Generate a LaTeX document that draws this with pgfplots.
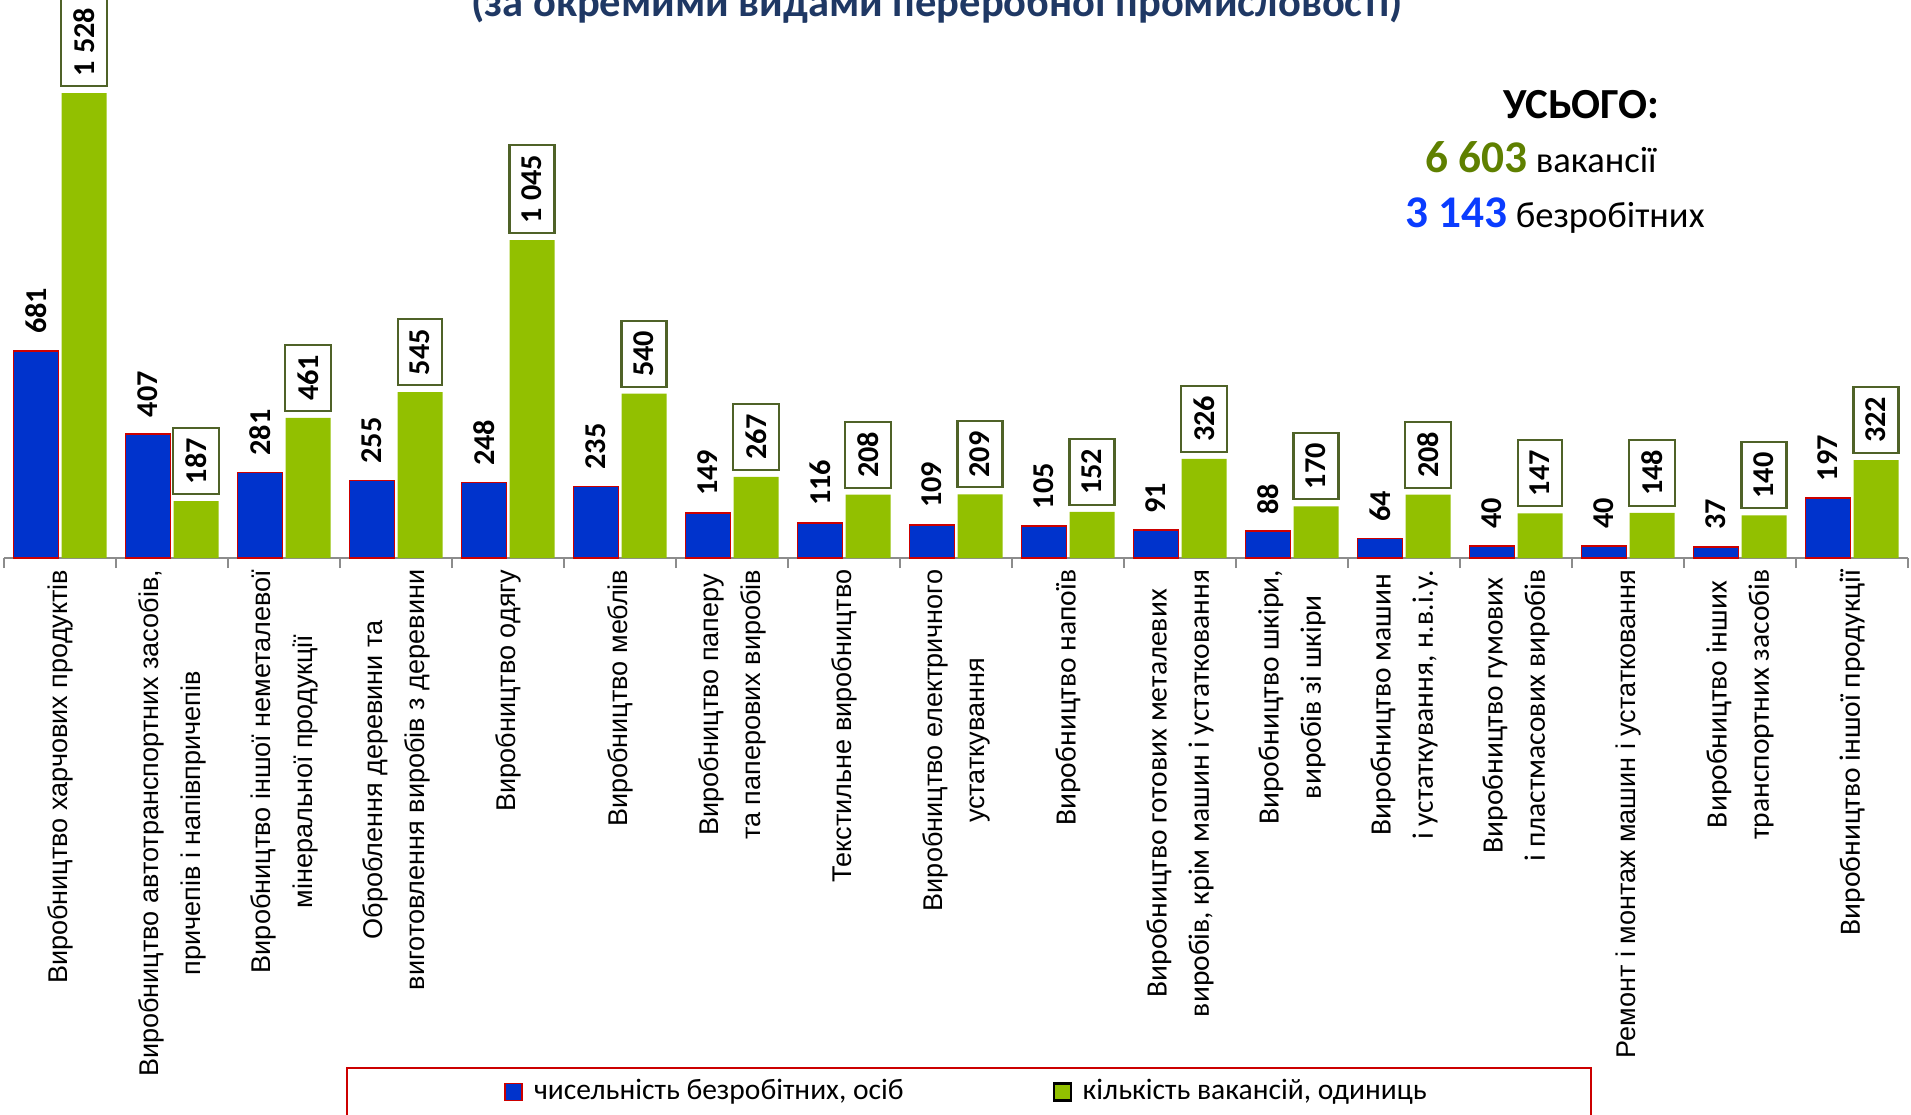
\documentclass[border=0pt]{standalone}
\usepackage{pgfplots}
\pgfplotsset{compat=1.18}
\usepackage{fontspec}
\setmainfont{Carlito}
\newfontfamily\arialf{Liberation Sans}
\definecolor{barblue}{RGB}{0,51,204}
\definecolor{bargreen}{RGB}{146,192,0}
\definecolor{barred}{RGB}{204,0,0}
\definecolor{boxolive}{RGB}{79,98,40}
\definecolor{titlenavy}{RGB}{31,56,100}
\definecolor{totgreen}{RGB}{95,128,0}
\definecolor{totblue}{RGB}{10,60,255}
\definecolor{axgray}{RGB}{140,140,140}
\newcommand\fA{\fontsize{7.7}{10.8}\selectfont\arialf}
\newcommand\fC{\fontsize{8.4}{11}\selectfont}
\begin{document}
\begin{tikzpicture}
\path[use as bounding box] (-0.04,-5.56) rectangle (19.07,5.58);
\begin{axis}[
  at={(0,0)}, anchor=south west,
  scale only axis, width=19.04cm, height=5.58cm,
  xmin=-0.5, xmax=16.5, ymin=0, ymax=1834,
  clip=false,
  ybar=0.03cm, bar width=0.45cm,
  axis x line*=bottom, axis y line=none,
  x axis line style={draw=axgray, line width=0.6pt},
  ytick=\empty,
  xtick={0,...,16},
  major tick length=0pt,
  minor xtick={-0.5,0.5,...,16.5},
  minor tick length=0.1cm,
  tick align=outside,
  minor x tick style={draw=axgray, line width=0.6pt},
  xticklabel shift=0.11cm,
  xticklabel style={rotate=90, anchor=east, align=center, inner sep=0pt},
  xticklabels={
    {\fA Виробництво харчових продуктів},
    {\fA Виробництво автотранспортних засобів,\\\fA причепів і напівпричепів},
    {\fA Виробництво іншої неметалевої\\\fA мінеральної продукції},
    {\fA Оброблення деревини та\\\fA виготовлення виробів з деревини},
    {\fA Виробництво одягу},
    {\fA Виробництво меблів},
    {\fA Виробництво паперу\\\fA та паперових виробів},
    {\fA Текстильне виробництво},
    {\fA Виробництво електричного\\\fA устаткування},
    {\fC Виробництво напоїв},
    {\fC Виробництво готових металевих\\\fC виробів, крім машин і устатковання},
    {\fC Виробництво шкіри,\\\fC виробів зі шкіри},
    {\fC Виробництво машин\\\fC і устаткування, н.в.і.у.},
    {\fC Виробництво гумових\\\fC і пластмасових виробів},
    {\fA Ремонт і монтаж машин і устатковання},
    {\fC Виробництво інших\\\fC транспортних засобів},
    {\fC Виробництво іншої продукції}
  },
  nodes near coords={\pgfmathprintnumber[assume math mode=true,1000 sep={\ }]{\pgfplotspointmeta}},
  every node near coord/.append style={yshift=0.06cm, rotate=90, anchor=west,
     font=\fontsize{8.6}{10}\selectfont\bfseries, text=black,
     inner xsep=0.1cm, inner ysep=0.125cm},
  legend style={at={(0.5068,-0.9570)}, anchor=center, draw=barred, line width=0.6pt,
     inner xsep=1.57cm, inner ysep=0.045cm, font=\fontsize{8.4}{10}\selectfont,
     /tikz/every odd column/.append style={column sep=0.04cm},
     /tikz/every even column/.append style={column sep=1.42cm}},
  legend columns=2,
  legend image code/.code={\draw[#1] (0cm,-0.085cm) rectangle (0.17cm,0.085cm);},
]
\addplot[fill=barblue, draw=barred, line width=0.5pt] coordinates {
 (0,681) (1,407) (2,281) (3,255) (4,248) (5,235) (6,149) (7,116) (8,109)
 (9,105) (10,91) (11,88) (12,64) (13,40) (14,40) (15,37) (16,197)};
\addlegendentry{чисельність безробітних, осіб}
\addplot[fill=bargreen, draw=none,
  every node near coord/.append style={draw=boxolive, fill=white, line width=0.6pt}] coordinates {
 (0,1528) (1,187) (2,461) (3,545) (4,1045) (5,540) (6,267) (7,208) (8,209)
 (9,152) (10,326) (11,170) (12,208) (13,147) (14,148) (15,140) (16,322)};
\addlegendentry{кількість вакансій, одиниць}
\end{axis}
\node[anchor=base, font=\fontsize{12.1}{14}\selectfont\bfseries, text=titlenavy] at (9.33,5.41) {(за окремими видами переробної промисловості)};
\node[anchor=base, font=\fontsize{12.2}{14}\selectfont\bfseries] at (15.77,4.39) {УСЬОГО:};
\node[anchor=base west, inner sep=0pt] at (14.21,3.85) {{\fontsize{12.9}{14}\selectfont\bfseries\color{totgreen}6\ 603} {\fontsize{10.4}{12}\selectfont вакансії}};
\node[anchor=base west, inner sep=0pt] at (14.01,3.30) {{\fontsize{12.9}{14}\selectfont\bfseries\color{totblue}3\ 143} {\fontsize{10.4}{12}\selectfont безробітних}};
\end{tikzpicture}
\end{document}
